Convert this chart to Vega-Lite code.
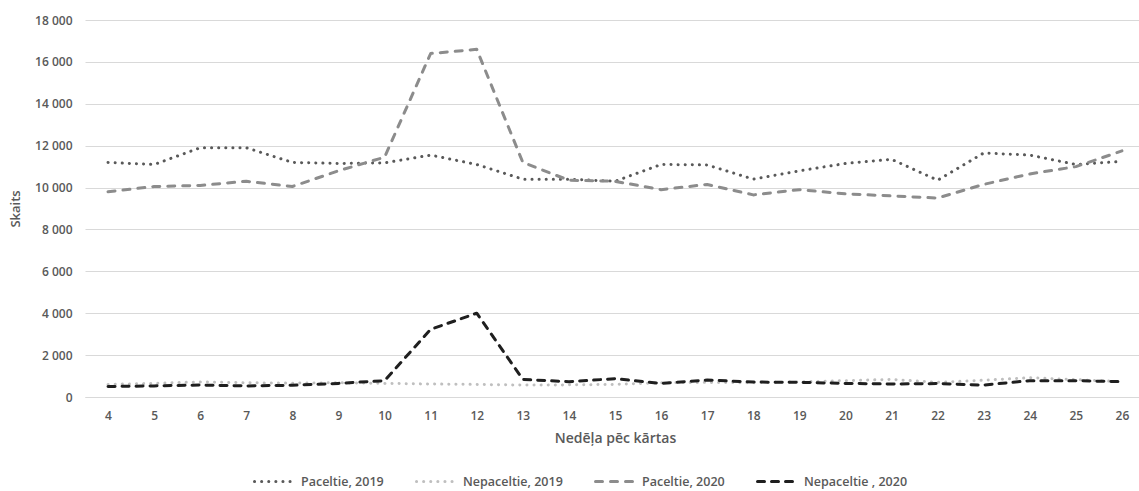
{
  "$schema": "https://vega.github.io/schema/vega-lite/v6.json",
  "autosize": {"type": "none"},
  "width": 1060,
  "height": 377,
  "padding": {"left": 85, "top": 20, "right": 0, "bottom": 94},
  "background": "white",
  "config": {
    "font": "Open Sans",
    "view": {"stroke": null}
  },
  "data": {
    "values": [
      {"week": 4, "series": "Paceltie, 2019", "value": 11200},
      {"week": 5, "series": "Paceltie, 2019", "value": 11100},
      {"week": 6, "series": "Paceltie, 2019", "value": 11900},
      {"week": 7, "series": "Paceltie, 2019", "value": 11900},
      {"week": 8, "series": "Paceltie, 2019", "value": 11200},
      {"week": 9, "series": "Paceltie, 2019", "value": 11150},
      {"week": 10, "series": "Paceltie, 2019", "value": 11180},
      {"week": 11, "series": "Paceltie, 2019", "value": 11550},
      {"week": 12, "series": "Paceltie, 2019", "value": 11100},
      {"week": 13, "series": "Paceltie, 2019", "value": 10400},
      {"week": 14, "series": "Paceltie, 2019", "value": 10400},
      {"week": 15, "series": "Paceltie, 2019", "value": 10300},
      {"week": 16, "series": "Paceltie, 2019", "value": 11100},
      {"week": 17, "series": "Paceltie, 2019", "value": 11080},
      {"week": 18, "series": "Paceltie, 2019", "value": 10400},
      {"week": 19, "series": "Paceltie, 2019", "value": 10800},
      {"week": 20, "series": "Paceltie, 2019", "value": 11150},
      {"week": 21, "series": "Paceltie, 2019", "value": 11350},
      {"week": 22, "series": "Paceltie, 2019", "value": 10350},
      {"week": 23, "series": "Paceltie, 2019", "value": 11650},
      {"week": 24, "series": "Paceltie, 2019", "value": 11550},
      {"week": 25, "series": "Paceltie, 2019", "value": 11100},
      {"week": 26, "series": "Paceltie, 2019", "value": 11250},

      {"week": 4, "series": "Nepaceltie, 2019", "value": 600},
      {"week": 5, "series": "Nepaceltie, 2019", "value": 650},
      {"week": 6, "series": "Nepaceltie, 2019", "value": 720},
      {"week": 7, "series": "Nepaceltie, 2019", "value": 680},
      {"week": 8, "series": "Nepaceltie, 2019", "value": 660},
      {"week": 9, "series": "Nepaceltie, 2019", "value": 680},
      {"week": 10, "series": "Nepaceltie, 2019", "value": 650},
      {"week": 11, "series": "Nepaceltie, 2019", "value": 620},
      {"week": 12, "series": "Nepaceltie, 2019", "value": 600},
      {"week": 13, "series": "Nepaceltie, 2019", "value": 570},
      {"week": 14, "series": "Nepaceltie, 2019", "value": 580},
      {"week": 15, "series": "Nepaceltie, 2019", "value": 600},
      {"week": 16, "series": "Nepaceltie, 2019", "value": 680},
      {"week": 17, "series": "Nepaceltie, 2019", "value": 700},
      {"week": 18, "series": "Nepaceltie, 2019", "value": 680},
      {"week": 19, "series": "Nepaceltie, 2019", "value": 720},
      {"week": 20, "series": "Nepaceltie, 2019", "value": 780},
      {"week": 21, "series": "Nepaceltie, 2019", "value": 840},
      {"week": 22, "series": "Nepaceltie, 2019", "value": 700},
      {"week": 23, "series": "Nepaceltie, 2019", "value": 800},
      {"week": 24, "series": "Nepaceltie, 2019", "value": 920},
      {"week": 25, "series": "Nepaceltie, 2019", "value": 830},
      {"week": 26, "series": "Nepaceltie, 2019", "value": 730},

      {"week": 4, "series": "Paceltie, 2020", "value": 9800},
      {"week": 5, "series": "Paceltie, 2020", "value": 10050},
      {"week": 6, "series": "Paceltie, 2020", "value": 10100},
      {"week": 7, "series": "Paceltie, 2020", "value": 10300},
      {"week": 8, "series": "Paceltie, 2020", "value": 10050},
      {"week": 9, "series": "Paceltie, 2020", "value": 10800},
      {"week": 10, "series": "Paceltie, 2020", "value": 11450},
      {"week": 11, "series": "Paceltie, 2020", "value": 16400},
      {"week": 12, "series": "Paceltie, 2020", "value": 16600},
      {"week": 13, "series": "Paceltie, 2020", "value": 11200},
      {"week": 14, "series": "Paceltie, 2020", "value": 10350},
      {"week": 15, "series": "Paceltie, 2020", "value": 10300},
      {"week": 16, "series": "Paceltie, 2020", "value": 9900},
      {"week": 17, "series": "Paceltie, 2020", "value": 10150},
      {"week": 18, "series": "Paceltie, 2020", "value": 9650},
      {"week": 19, "series": "Paceltie, 2020", "value": 9900},
      {"week": 20, "series": "Paceltie, 2020", "value": 9700},
      {"week": 21, "series": "Paceltie, 2020", "value": 9600},
      {"week": 22, "series": "Paceltie, 2020", "value": 9500},
      {"week": 23, "series": "Paceltie, 2020", "value": 10150},
      {"week": 24, "series": "Paceltie, 2020", "value": 10650},
      {"week": 25, "series": "Paceltie, 2020", "value": 11000},
      {"week": 26, "series": "Paceltie, 2020", "value": 11750},

      {"week": 4, "series": "Nepaceltie , 2020", "value": 500},
      {"week": 5, "series": "Nepaceltie , 2020", "value": 530},
      {"week": 6, "series": "Nepaceltie , 2020", "value": 570},
      {"week": 7, "series": "Nepaceltie , 2020", "value": 530},
      {"week": 8, "series": "Nepaceltie , 2020", "value": 560},
      {"week": 9, "series": "Nepaceltie , 2020", "value": 650},
      {"week": 10, "series": "Nepaceltie , 2020", "value": 780},
      {"week": 11, "series": "Nepaceltie , 2020", "value": 3230},
      {"week": 12, "series": "Nepaceltie , 2020", "value": 4000},
      {"week": 13, "series": "Nepaceltie , 2020", "value": 840},
      {"week": 14, "series": "Nepaceltie , 2020", "value": 730},
      {"week": 15, "series": "Nepaceltie , 2020", "value": 875},
      {"week": 16, "series": "Nepaceltie , 2020", "value": 650},
      {"week": 17, "series": "Nepaceltie , 2020", "value": 810},
      {"week": 18, "series": "Nepaceltie , 2020", "value": 715},
      {"week": 19, "series": "Nepaceltie , 2020", "value": 700},
      {"week": 20, "series": "Nepaceltie , 2020", "value": 650},
      {"week": 21, "series": "Nepaceltie , 2020", "value": 620},
      {"week": 22, "series": "Nepaceltie , 2020", "value": 640},
      {"week": 23, "series": "Nepaceltie , 2020", "value": 570},
      {"week": 24, "series": "Nepaceltie , 2020", "value": 780},
      {"week": 25, "series": "Nepaceltie , 2020", "value": 780},
      {"week": 26, "series": "Nepaceltie , 2020", "value": 730}
    ]
  },
  "mark": {"type": "line", "strokeWidth": 3, "strokeCap": "round", "strokeJoin": "round"},
  "encoding": {
    "x": {
      "field": "week",
      "type": "ordinal",
      "sort": "ascending",
      "scale": {"type": "point", "padding": 0.5},
      "axis": {
        "title": "Nedēļa pēc kārtas",
        "labelAngle": 0,
        "labelFontSize": 12,
        "labelFontWeight": 600,
        "labelColor": "#595959",
        "labelPadding": 13,
        "titleFontSize": 14,
        "titleFontWeight": 600,
        "titleColor": "#595959",
        "titlePadding": 10,
        "ticks": false,
        "domainColor": "#d9d9d9",
        "domainWidth": 1,
        "grid": false
      }
    },
    "y": {
      "field": "value",
      "type": "quantitative",
      "scale": {"domain": [0, 18000], "nice": false},
      "axis": {
        "title": "Skaits",
        "values": [0, 2000, 4000, 6000, 8000, 10000, 12000, 14000, 16000, 18000],
        "labelExpr": "datum.value == 0 ? '0' : format(datum.value / 1000, 'd') + ' 000'",
        "labelFontSize": 12,
        "labelFontWeight": 600,
        "labelColor": "#595959",
        "labelPadding": 13,
        "titleFontSize": 13,
        "titleFontWeight": 600,
        "titleColor": "#595959",
        "titlePadding": 12,
        "ticks": false,
        "domain": false,
        "gridColor": "#d9d9d9",
        "gridWidth": 1
      }
    },
    "color": {
      "field": "series",
      "type": "nominal",
      "scale": {
        "domain": ["Paceltie, 2019", "Nepaceltie, 2019", "Paceltie, 2020", "Nepaceltie , 2020"],
        "range": ["#595959", "#bfbfbf", "#8c8c8c", "#1f1f1f"]
      },
      "legend": {
        "title": null,
        "orient": "none",
        "legendX": 168,
        "legendY": 440,
        "direction": "horizontal",
        "symbolType": "stroke",
        "symbolSize": 1600,
        "symbolStrokeWidth": 3,
        "labelFontSize": 12.5,
        "labelFontWeight": 600,
        "labelColor": "#595959",
        "labelOffset": 5,
        "columnPadding": 26,
        "encode": {
          "symbols": {"update": {"strokeCap": {"value": "round"}}}
        }
      }
    },
    "strokeDash": {
      "field": "series",
      "type": "nominal",
      "scale": {
        "domain": ["Paceltie, 2019", "Nepaceltie, 2019", "Paceltie, 2020", "Nepaceltie , 2020"],
        "range": [[0.1, 7], [0.1, 7], [7, 8], [7, 7]]
      },
      "legend": null
    }
  }
}
